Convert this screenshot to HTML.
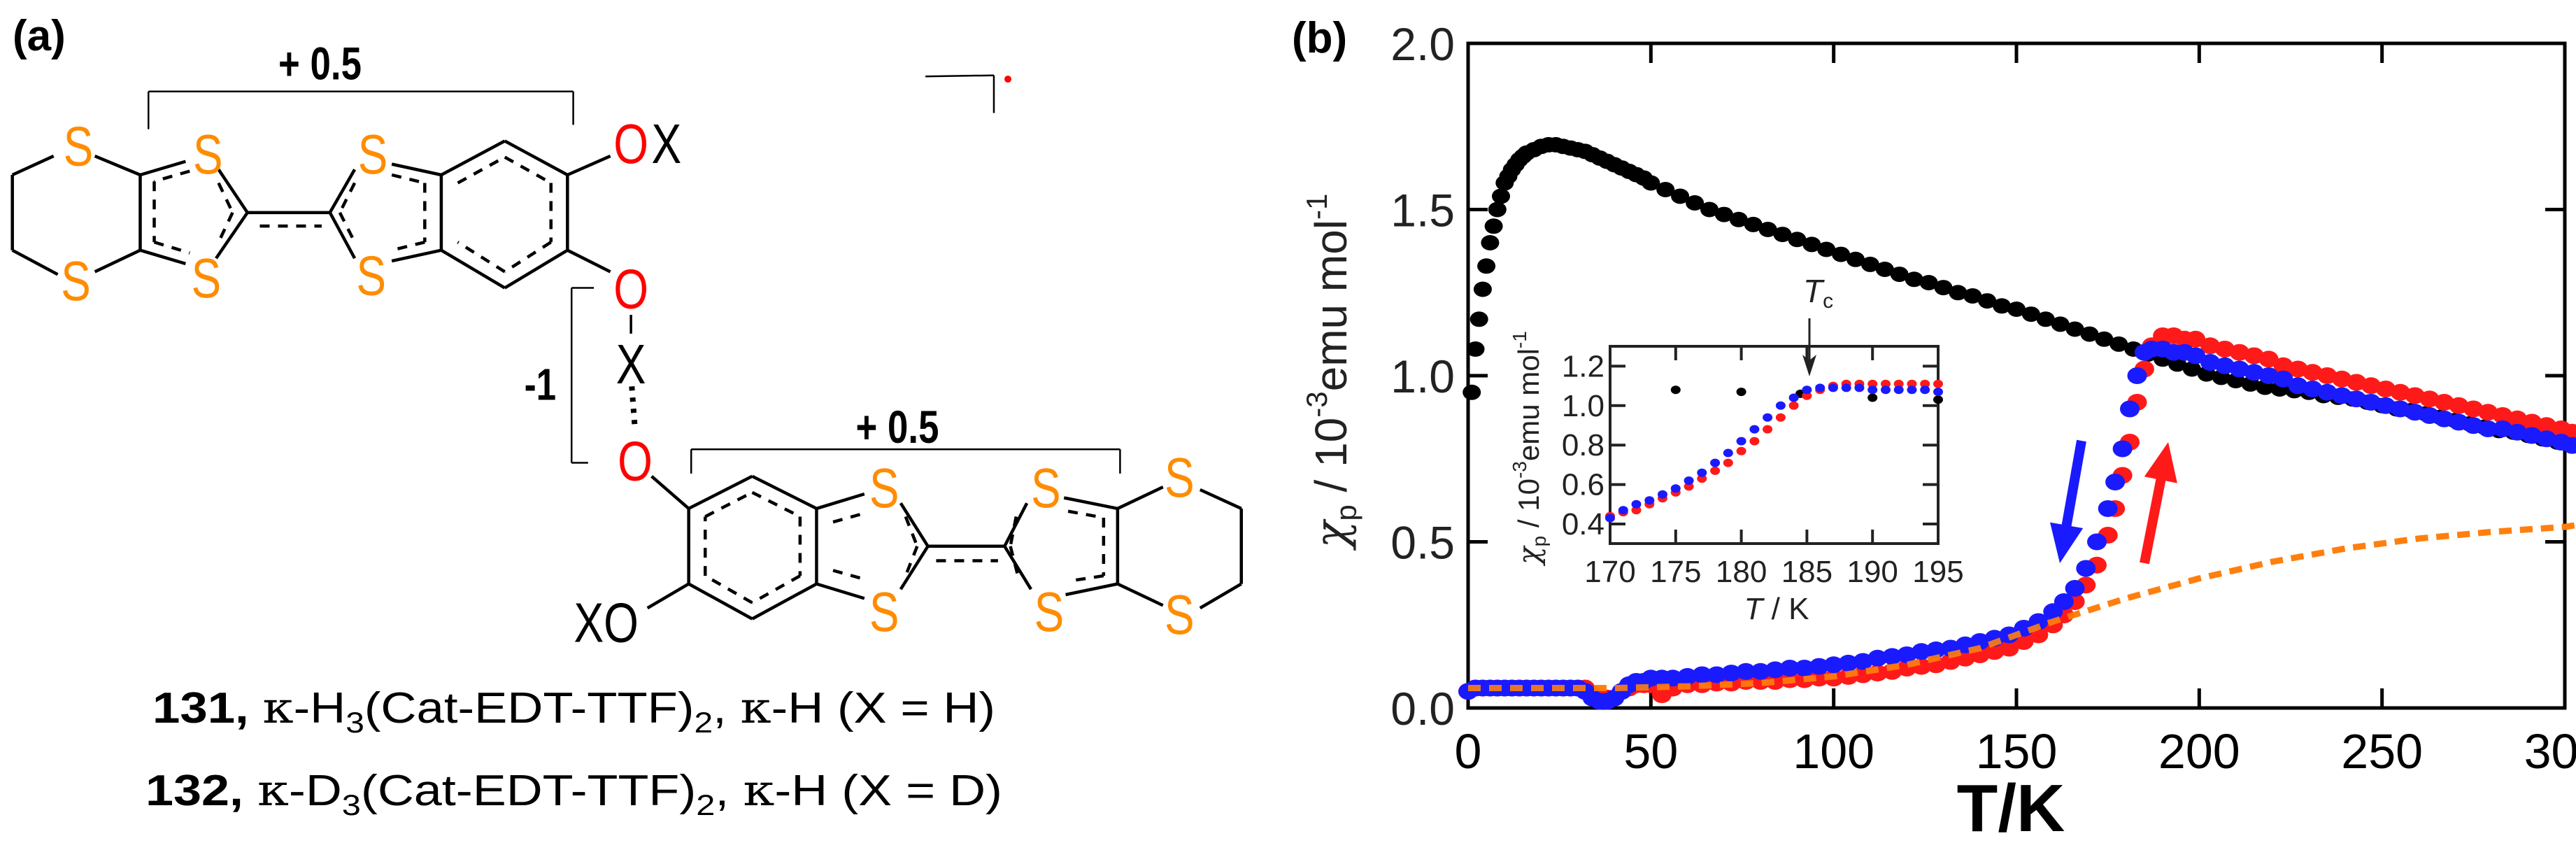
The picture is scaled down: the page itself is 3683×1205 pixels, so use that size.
<!DOCTYPE html>
<html><head><meta charset="utf-8"><style>
html,body{margin:0;padding:0;background:#fff;}
svg{display:block;font-family:"Liberation Sans",Arial,sans-serif;}
</style></head><body>
<svg id="fig" width="3683" height="1205" viewBox="0 0 3683 1205" xmlns="http://www.w3.org/2000/svg">
<rect width="3683" height="1205" fill="#fff"/>
<g id="panelA"></g>
<g id="panelB"></g>
</svg>
<script>
// ===== Chart data (panel b) =====
const xTicks = [0, 50, 100, 150, 200, 250, 300];
const yTicks = [0.0, 0.5, 1.0, 1.5, 2.0];
const yTickLabels = ["0.0", "0.5", "1.0", "1.5", "2.0"];
const blackPoints = [[1,0.95],[2,1.08],[3,1.17],[4,1.26],[5,1.33],[6,1.40],[7,1.45],[8,1.50],[9,1.54],[10,1.58],[11,1.60],[12,1.62],[13,1.635],[14,1.65],[15,1.66],[16,1.67],[18,1.68],[20,1.69],[22,1.695],[24,1.695],[26,1.69],[28,1.685],[30,1.68],[32,1.675],[34,1.665],[36,1.655],[38,1.645],[40,1.635],[42,1.625],[44,1.615],[46,1.605],[48,1.595],[50,1.58],[54,1.56],[58,1.54],[62,1.52],[66,1.50],[70,1.485],[74,1.47],[78,1.455],[82,1.44],[86,1.425],[90,1.41],[94,1.395],[98,1.38],[102,1.365],[106,1.35],[110,1.335],[114,1.32],[118,1.305],[122,1.29],[126,1.28],[130,1.265],[134,1.25],[138,1.24],[142,1.225],[146,1.21],[150,1.20],[154,1.185],[158,1.17],[162,1.155],[166,1.14],[170,1.125],[174,1.11],[178,1.095],[182,1.08],[186,1.065],[190,1.05],[194,1.035],[198,1.02],[202,1.005],[206,0.995],[210,0.985],[214,0.975],[218,0.965],[222,0.96],[226,0.955],[230,0.95],[234,0.94],[238,0.935],[242,0.93],[246,0.92],[250,0.91],[254,0.90],[258,0.895],[262,0.885],[266,0.875],[270,0.865],[274,0.855],[278,0.845],[282,0.835],[286,0.83],[290,0.82],[294,0.81],[298,0.80],[302,0.79]];
const tempGrid = [0,2,4,6,8,10,12,14,16,18,20,22,24,26,28,30,32,34,36,38,40,42,44,46,48,50,53,56,60,64,68,72,76,80,84,88,92,96,100,104,108,112,116,120,124,128,132,136,140,144,148,152,156,160,163,166,169,172,175,177,179,181,183,185,187,190,193,196,199,203,207,211,215,219,223,227,231,235,239,243,247,251,255,259,263,267,271,275,279,283,287,291,295,299,302];
const heatingValues = [0.05,0.06,0.06,0.06,0.06,0.06,0.06,0.06,0.06,0.06,0.06,0.06,0.06,0.06,0.06,0.06,0.06,0.04,0.03,0.03,0.03,0.05,0.06,0.07,0.07,0.07,0.04,0.06,0.07,0.07,0.075,0.075,0.08,0.08,0.08,0.085,0.085,0.09,0.09,0.095,0.10,0.105,0.11,0.12,0.125,0.13,0.14,0.15,0.16,0.17,0.18,0.20,0.22,0.25,0.28,0.32,0.37,0.43,0.52,0.60,0.70,0.80,0.92,1.02,1.09,1.12,1.12,1.11,1.11,1.09,1.08,1.07,1.06,1.05,1.03,1.02,1.01,1.00,0.99,0.98,0.97,0.96,0.95,0.94,0.93,0.92,0.91,0.90,0.89,0.88,0.87,0.86,0.85,0.84,0.83];
const coolingValues = [0.05,0.06,0.06,0.06,0.06,0.06,0.06,0.06,0.06,0.06,0.06,0.06,0.06,0.06,0.06,0.06,0.05,0.03,0.02,0.02,0.03,0.05,0.07,0.08,0.08,0.09,0.09,0.09,0.095,0.10,0.10,0.105,0.11,0.11,0.115,0.12,0.12,0.125,0.13,0.135,0.14,0.15,0.155,0.16,0.17,0.175,0.18,0.19,0.20,0.21,0.22,0.24,0.26,0.29,0.32,0.36,0.42,0.50,0.60,0.68,0.78,0.90,1.00,1.07,1.08,1.08,1.07,1.07,1.06,1.04,1.03,1.02,1.01,1.00,0.99,0.97,0.96,0.95,0.94,0.93,0.92,0.91,0.90,0.89,0.88,0.87,0.86,0.85,0.84,0.84,0.83,0.82,0.81,0.80,0.79];
const fitTemps = [0,20,40,60,80,100,120,140,160,180,200,220,240,260,280,300,303];
const fitValues = [0.06,0.06,0.06,0.065,0.075,0.095,0.13,0.18,0.26,0.33,0.39,0.44,0.48,0.51,0.53,0.545,0.55];
// inset
const insetXTicks = [170,175,180,185,190,195];
const insetYTicks = [0.4,0.6,0.8,1.0,1.2];
const insetYLabels = ["0.4","0.6","0.8","1.0","1.2"];
const insetBlack = [[175,1.08],[180,1.07],[184.5,1.06],[190,1.04],[195,1.03]];
const insetTemps = [170,171,172,173,174,175,176,177,178,179,180,181,182,183,184,185,186,187,188,189,190,191,192,193,194,195];
const insetHeating = [0.44,0.46,0.47,0.50,0.53,0.56,0.59,0.63,0.67,0.71,0.77,0.82,0.88,0.94,1.00,1.05,1.08,1.10,1.11,1.11,1.11,1.11,1.11,1.11,1.11,1.11];
const insetCooling = [0.43,0.47,0.50,0.52,0.55,0.58,0.62,0.66,0.71,0.76,0.82,0.88,0.94,1.00,1.04,1.08,1.09,1.09,1.09,1.09,1.08,1.08,1.08,1.08,1.08,1.07];

const NS = "http://www.w3.org/2000/svg";
function mk(parent, tag, attrs, txt){
  const e = document.createElementNS(NS, tag);
  for (const k in attrs) e.setAttribute(k, attrs[k]);
  if (txt !== undefined) e.textContent = txt;
  parent.appendChild(e);
  return e;
}
const B = document.getElementById('panelB');
const X0 = 2099, X300 = 3667, Y0 = 1012, Y2 = 62;
const xs = t => X0 + (X300 - X0) * t / 300;
const ys = v => Y0 - (Y0 - Y2) * v / 2;

let fr = mk(B, 'rect', {x:X0, y:Y2, width:X300-X0, height:Y0-Y2, fill:'none', stroke:'#000', 'stroke-width':5});


xTicks.forEach(t => {
  let l1 = mk(B, 'line', {x1:xs(t), x2:xs(t), y1:Y0, y2:Y0-28, stroke:'#000', 'stroke-width':5});
  
  
  let l2 = mk(B, 'line', {x1:xs(t), x2:xs(t), y1:Y2, y2:Y2+28, stroke:'#000', 'stroke-width':5});
  
  
  let tx = mk(B, 'text', {x:xs(t), y:1098, 'font-size':70, 'text-anchor':'middle', fill:'#000'}, String(t));
  
  
});
yTicks.forEach((v, i) => {
  let l1 = mk(B, 'line', {x1:X0, x2:X0+28, y1:ys(v), y2:ys(v), stroke:'#000', 'stroke-width':5});
  
  
  let l2 = mk(B, 'line', {x1:X300, x2:X300-28, y1:ys(v), y2:ys(v), stroke:'#000', 'stroke-width':5});
  
  
  let tx = mk(B, 'text', {x:2080, y:ys(v)+24, 'font-size':66, 'text-anchor':'end', fill:'#222'}, yTickLabels[i]);
  
  
});
let xt = mk(B, 'text', {x:2875, y:1188, 'font-size':96, 'font-weight':'bold', 'text-anchor':'middle'}, 'T/K');


let yt = mk(B, 'text', {transform:'translate(1925,530) rotate(-90)', 'font-size':64, 'text-anchor':'middle', fill:'#222'});


yt.innerHTML = '<tspan font-family="DejaVu Serif, serif" font-style="italic">χ</tspan><tspan font-size="42" dy="14">p</tspan><tspan dy="-14"> / 10</tspan><tspan font-size="42" dy="-28">-3</tspan><tspan dy="28">emu mol</tspan><tspan font-size="42" dy="-28">-1</tspan>';
let lb = mk(B, 'text', {x:1847, y:75, 'font-size':62, 'font-weight':'bold'}, '(b)');



let fitD = fitTemps.map((t,i)=> (i?'L':'M') + xs(t).toFixed(1) + ' ' + ys(fitValues[i]).toFixed(1)).join(' ');
let fit = mk(B, 'path', {d:fitD, fill:'none', stroke:'#ff7f0e', 'stroke-width':8, 'stroke-dasharray':'18 12'});



function dots(pts, color, name, rx, ry){
  const g = mk(B, 'g', {fill:color});
  
  
  pts.forEach(p => {
    const c = mk(g, 'ellipse', {cx:xs(p[0]).toFixed(1), cy:ys(p[1]).toFixed(1), rx:rx, ry:ry});
    
    
  });
}
dots(blackPoints, '#000', 'series-black', 13, 11);
dots(tempGrid.map((t,i)=>[t, heatingValues[i]]), '#ff1a1a', 'series-heating', 14, 12);
dots(tempGrid.map((t,i)=>[t, coolingValues[i]]), '#1a1aff', 'series-cooling', 14, 12);
let fit2 = mk(B, 'path', {d:fitD, fill:'none', stroke:'#ff7f0e', 'stroke-width':9, 'stroke-dasharray':'18 12', opacity:0.9});



function arrow(x1,y1,x2,y2,color,name){
  const dx=x2-x1, dy=y2-y1, L=Math.hypot(dx,dy), ux=dx/L, uy=dy/L, nx=-uy, ny=ux;
  const hl=55, hw=24, sw=7;
  const bx=x2-ux*hl, by=y2-uy*hl;
  const pts=[[x1+nx*sw,y1+ny*sw],[bx+nx*sw,by+ny*sw],[bx+nx*hw,by+ny*hw],[x2,y2],[bx-nx*hw,by-ny*hw],[bx-nx*sw,by-ny*sw],[x1-nx*sw,y1-ny*sw]];
  const p = mk(B, 'polygon', {points:pts.map(q=>q[0].toFixed(1)+','+q[1].toFixed(1)).join(' '), fill:color});
  
  
}
arrow(2976, 630, 2945, 805, '#1a1aff', 'cooling-arrow');
arrow(3066, 805, 3100, 632, '#ff1a1a', 'heating-arrow');

const IX0=2302, IX1=2771, IYT=495, IYB=777;
const ixs = t => IX0 + (t-170)*(IX1-IX0)/25;
const iys = v => 749 - (v-0.4)*282;
let ir = mk(B, 'rect', {x:IX0, y:IYT, width:IX1-IX0, height:IYB-IYT, fill:'#fff', stroke:'#222', 'stroke-width':4});


insetXTicks.forEach(t=>{
  let a = mk(B,'line',{x1:ixs(t),x2:ixs(t),y1:IYB,y2:IYB-20,stroke:'#222','stroke-width':4});
  
  
  let b = mk(B,'line',{x1:ixs(t),x2:ixs(t),y1:IYT,y2:IYT+20,stroke:'#222','stroke-width':4});
  
  
  let tx = mk(B,'text',{x:ixs(t),y:832,'font-size':44,'text-anchor':'middle',fill:'#222'},String(t));
  
  
});
insetYTicks.forEach((v,i)=>{
  let a = mk(B,'line',{x1:IX0,x2:IX0+22,y1:iys(v),y2:iys(v),stroke:'#222','stroke-width':4});
  
  
  let b = mk(B,'line',{x1:IX1,x2:IX1-22,y1:iys(v),y2:iys(v),stroke:'#222','stroke-width':4});
  
  
  let tx = mk(B,'text',{x:2294,y:iys(v)+15,'font-size':44,'text-anchor':'end',fill:'#222'},insetYLabels[i]);
  
  
});
let ixt = mk(B,'text',{x:2540,y:885,'font-size':44,'text-anchor':'middle',fill:'#222'});


ixt.innerHTML = '<tspan font-style="italic">T</tspan> / K';
let iyt = mk(B,'text',{transform:'translate(2200,640) rotate(-90)','font-size':42,'text-anchor':'middle',fill:'#222'});


iyt.innerHTML = '<tspan font-family="DejaVu Serif, serif" font-style="italic">χ</tspan><tspan font-size="28" dy="10">p</tspan><tspan dy="-10"> / 10</tspan><tspan font-size="28" dy="-18">-3</tspan><tspan dy="18">emu mol</tspan><tspan font-size="28" dy="-18">-1</tspan>';
function idots(pts,color,name){
  const g = mk(B,'g',{fill:color});
  
  
  pts.forEach(p=>{
    const c = mk(g,'ellipse',{cx:ixs(p[0]).toFixed(1),cy:iys(p[1]).toFixed(1),rx:7,ry:6});
    
    
  });
}
idots(insetBlack,'#000','inset-series-black');
idots(insetTemps.map((t,i)=>[t,insetHeating[i]]),'#ff1a1a','inset-series-heating');
idots(insetTemps.map((t,i)=>[t,insetCooling[i]]),'#1a1aff','inset-series-cooling');
let tcl = mk(B,'line',{x1:2587,x2:2587,y1:455,y2:520,stroke:'#222','stroke-width':3});


let tch = mk(B,'polygon',{points:'2577,507 2587,538 2597,507 2587,515',fill:'#222'});


let tc = mk(B,'text',{x:2578,y:432,'font-size':46,fill:'#222'});


tc.innerHTML = '<tspan font-style="italic">T</tspan><tspan font-size="30" dy="8">c</tspan>';

// ===== Panel (a): structure =====
const A = document.getElementById('panelA');
const px = x => x/0.848, py = y => y/1.30;
function bond(x1,y1,x2,y2,dash,w){
  const l = mk(A,'line',{x1:px(x1),y1:py(y1),x2:px(x2),y2:py(y2),stroke:'#000','stroke-width':w||4.5});
  if (dash) l.setAttribute('stroke-dasharray', dash);
  
  
}
function poly(pts,dash,w){
  for (let i=0;i<pts.length-1;i++) bond(pts[i][0],pts[i][1],pts[i+1][0],pts[i+1][1],dash,w);
}
function atom(x,y,t,color,name,size,bold){
  const e = mk(A,'text',{transform:'translate('+px(x).toFixed(1)+','+(py(y)+29).toFixed(1)+') scale(0.8,1)','font-size':size||80,'text-anchor':'middle',fill:color},t);
  if (bold) e.setAttribute('font-weight','bold');
  
  
}
const D='14 12';
poly([[65,290],[15,325],[15,465],[70,510]]);
bond(115,290,170,325); bond(115,505,170,465);
bond(170,325,170,465);
bond(170,325,225,300); bond(170,465,225,490);
bond(265,315,300,395); bond(262,480,300,395);
bond(300,395,400,395);
bond(400,395,430,315); bond(400,395,430,480);
bond(475,305,535,325); bond(475,485,535,465);
poly([[535,325],[612,262],[688,325],[688,465],[612,535],[535,465],[535,325]]);
poly([[230,318],[187,337],[187,450],[230,470]],D);
poly([[265,340],[282,395],[265,450]],D);
bond(315,420,390,420,D);
poly([[430,340],[412,395],[430,450]],D);
poly([[475,325],[515,340],[515,450],[475,465]],D);
poly([[555,340],[612,292],[668,340],[668,450],[612,505],[555,450]],D);
bond(688,325,740,290); bond(688,465,740,505);
atom(95,270,'S','#ff8c00','sulfur'); atom(252,285,'S','#ff8c00','sulfur'); atom(452,285,'S','#ff8c00','sulfur');
atom(92,520,'S','#ff8c00','sulfur'); atom(250,515,'S','#ff8c00','sulfur'); atom(450,510,'S','#ff8c00','sulfur');
atom(765,265,'O','#ff0000','oxygen'); atom(808,265,'X','#000','x-atom');
atom(765,535,'O','#ff0000','oxygen');
bond(765,585,765,620,null,3.5);
atom(765,675,'X','#000','x-atom');
bond(766,718,770,800,'6 10',8);
atom(770,855,'O','#ff0000','oxygen');
poly([[720,535],[693,535],[693,860],[713,860]],null,2.5);
atom(655,705,'-1','#000','charge-minus-one',64,true);
bond(790,885,835,945);
poly([[835,945],[912,885],[990,945],[990,1085],[912,1150],[835,1085],[835,945]]);
poly([[855,960],[912,915],[970,960],[970,1070],[912,1120],[855,1070],[855,960]],D);
bond(835,1085,785,1130);
atom(735,1155,'XO','#000','xo-group');
bond(990,945,1048,918); bond(990,1085,1048,1112);
bond(1092,935,1125,1015); bond(1092,1095,1125,1015);
bond(1125,1015,1218,1015);
bond(1135,1042,1210,1042,D);
poly([[1010,970],[1045,955]],D); poly([[1010,1060],[1045,1075]],D);
poly([[1098,960],[1112,1015],[1098,1070]],D);
bond(1218,1015,1245,935); bond(1218,1015,1250,1095);
poly([[1232,960],[1225,1015],[1235,1075]],D);
bond(1290,925,1355,945); bond(1292,1105,1355,1085);
bond(1355,945,1355,1085);
poly([[1295,950],[1338,962],[1338,1070],[1295,1080]],D);
bond(1355,945,1410,905); bond(1355,1085,1410,1125);
poly([[1455,910],[1505,945],[1505,1085],[1455,1130]]);
atom(1072,905,'S','#ff8c00','sulfur'); atom(1072,1135,'S','#ff8c00','sulfur');
atom(1268,905,'S','#ff8c00','sulfur'); atom(1272,1135,'S','#ff8c00','sulfur');
atom(1430,885,'S','#ff8c00','sulfur'); atom(1430,1140,'S','#ff8c00','sulfur');
poly([[180,240],[180,170],[695,170],[695,232]],null,2.5);
atom(388,110,'+ 0.5','#000','charge-plus-half-top',66,true);
poly([[838,880],[838,835],[1358,835],[1358,880]],null,2.5);
atom(1088,785,'+ 0.5','#000','charge-plus-half-bottom',66,true);
poly([[1122,142],[1205,140],[1205,210]],null,2.5);
let rd = mk(A,'circle',{cx:px(1222),cy:py(147),r:5,fill:'#ff0000'});


let la = mk(A,'text',{x:18,y:72,'font-size':62,'font-weight':'bold'},'(a)');


[['131,','H',1033,218,1423,'H'],['132,','D',1151,208,1433,'D']].forEach((r,i)=>{
  const t = mk(A,'text',{x:r[3],y:r[2],'font-size':62,textLength:r[4]-r[3],lengthAdjust:'spacingAndGlyphs'});
  
  
  t.innerHTML = '<tspan font-weight="bold">'+r[0]+'</tspan> <tspan font-family="DejaVu Serif, serif">κ</tspan>-'+r[1]+'<tspan font-size="42" dy="14">3</tspan><tspan dy="-14">(Cat-EDT-TTF)</tspan><tspan font-size="42" dy="14">2</tspan><tspan dy="-14">, </tspan><tspan font-family="DejaVu Serif, serif">κ</tspan>-H (X = '+r[5]+')';
});
</script>
</body></html>
